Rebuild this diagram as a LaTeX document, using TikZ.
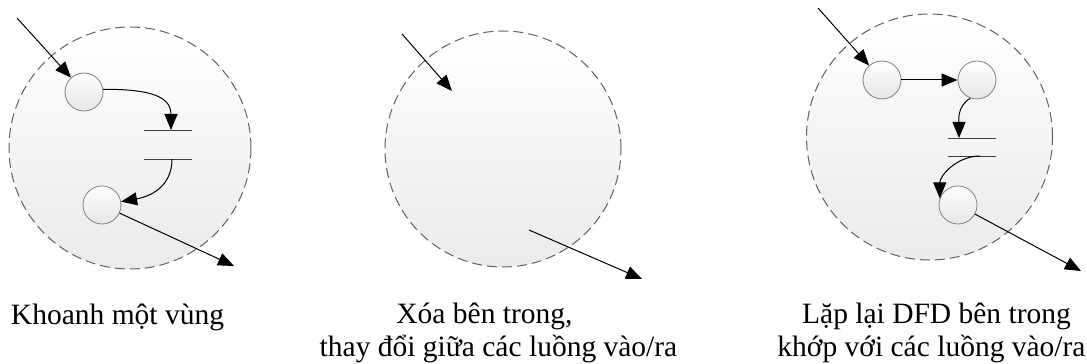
\documentclass[tikz,border=0pt]{standalone}
\usepackage{fontspec}
\setmainfont{Liberation Serif}
\usetikzlibrary{arrows.meta}
\begin{document}
\begin{tikzpicture}[x=1pt,y=1pt,
  region/.style={circle, draw=black!62, line width=1pt, dash pattern=on 10pt off 5pt,
                 top color=white, bottom color=black!8, inner sep=0pt},
  proc/.style={circle, draw=black!50, line width=0.8pt, top color=white, bottom color=black!10,
               minimum size=38pt, inner sep=0pt},
  flow/.style={draw=black, line width=1pt, arrows={-Triangle[length=16pt,width=13pt]}},
  storeline/.style={draw=black!75, line width=0.9pt},
  lbl/.style={font=\fontsize{29.5}{33}\selectfont, anchor=base, inner sep=0pt}]
\useasboundingbox (0,0) rectangle (1087,364);

% ---------- panel 1 ----------
\node[region, minimum size=242pt] (r1) at (130,216) {};
\node[proc] (a) at (84,272) {};
\node[proc] (b) at (102,159) {};
\coordinate (s1tl) at (144,234); \coordinate (s1tr) at (192,234);
\coordinate (s1bl) at (144,205); \coordinate (s1br) at (192,205);
\coordinate (s1in) at (171,234); \coordinate (s1out) at (172,205);
\draw[storeline] (s1tl) -- (s1tr);
\draw[storeline] (s1bl) -- (s1br);
\coordinate (in1) at (17,346);
\coordinate (out1) at (234,98);
\draw[flow] (in1) -- (a);
\draw[flow] (a.8) to[out=0,in=90,looseness=1.2] (s1in);
\draw[flow] (s1out) to[out=-90,in=10,looseness=1.1] (b.10);
\draw[flow] (b) -- (out1);

% ---------- panel 2 ----------
\node[region, minimum size=236pt] (r2) at (503,215) {};
\coordinate (in2s) at (402,330); \coordinate (in2e) at (452,273);
\coordinate (out2s) at (529,134); \coordinate (out2e) at (642,85);
\draw[flow] (in2s) -- (in2e);
\draw[flow] (out2s) -- (out2e);

% ---------- panel 3 ----------
\node[region, minimum size=246pt] (r3) at (929.5,227) {};
\node[proc] (c) at (882,284) {};
\node[proc] (d) at (977,284) {};
\node[proc] (e) at (958,159) {};
\coordinate (s3tl) at (948,226); \coordinate (s3tr) at (996,226);
\coordinate (s3bl) at (948,208); \coordinate (s3br) at (996,208);
\coordinate (s3in) at (959,226); \coordinate (s3out) at (980,208);
\draw[storeline] (s3tl) -- (s3tr);
\draw[storeline] (s3bl) -- (s3br);
\coordinate (in3) at (818,356);
\coordinate (out3) at (1081,93);
\draw[flow] (in3) -- (c);
\draw[flow] (c) -- (d);
\draw[flow] (d.-110) to[out=-150,in=90] (s3in);
\draw[flow] (s3out) to[out=180,in=90] (e.160);
\draw[flow] (e) -- (out3);

% ---------- labels ----------
\node[lbl] (t1) at (117.5,39) {Khoanh một vùng};
\node[lbl] (t2a) at (484.5,40) {Xóa bên trong,};
\node[lbl] (t2b) at (498.5,7) {thay đổi giữa các luồng vào/ra};
\node[lbl] (t3a) at (936.5,40) {Lặp lại DFD bên trong};
\node[lbl] (t3b) at (931.5,7) {khớp với các luồng vào/ra};
\end{tikzpicture}
\end{document}
